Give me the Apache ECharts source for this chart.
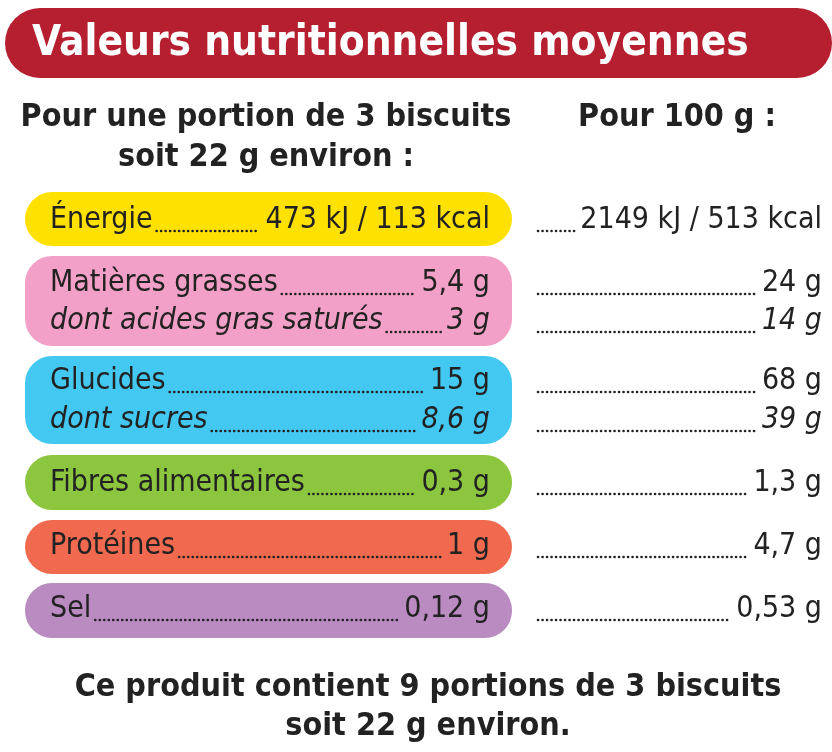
<!DOCTYPE html>
<html>
<head>
<meta charset="utf-8">
<script src="https://cdn.jsdelivr.net/npm/echarts@6/dist/echarts.min.js"></script>
<style>
  html, body { margin: 0; padding: 0; background: #fff; }
  #main { width: 832px; height: 752px; }
</style>
</head>
<body>
<div id="main"></div>
<script>
// valeurs nutritionnelles
const title = 'Valeurs nutritionnelles moyennes';
const portionHeader = ['Pour une portion de 3 biscuits', 'soit 22 g environ :'];
const per100Header = 'Pour 100 g :';
const rowLabels = ['Énergie', 'Matières grasses', 'dont acides gras saturés', 'Glucides', 'dont sucres', 'Fibres alimentaires', 'Protéines', 'Sel'];
const perPortion = ['473 kJ / 113 kcal', '5,4 g', '3 g', '15 g', '8,6 g', '0,3 g', '1 g', '0,12 g'];
const per100g = ['2149 kJ / 513 kcal', '24 g', '14 g', '68 g', '39 g', '1,3 g', '4,7 g', '0,53 g'];
const italicRows = [false, false, true, false, true, false, false, false];
const footer = ['Ce produit contient 9 portions de 3 biscuits', 'soit 22 g environ.'];

// layout / style
const rowY = [220, 283, 321, 381, 420, 483, 546, 609];
const pills = [
  { y: 192, h: 54, color: '#ffe100' },
  { y: 256, h: 90, color: '#f3a0c9' },
  { y: 356, h: 88, color: '#43c8f2' },
  { y: 455, h: 55, color: '#8cc63e' },
  { y: 520, h: 54, color: '#f16a50' },
  { y: 583, h: 55, color: '#b98bc1' }
];
const FONT = '"Liberation Sans Narrow", "DejaVu Sans Condensed", sans-serif';
const SIZE = 30;

const ctx = document.createElement('canvas').getContext('2d');
function width(t, italic, bold) {
  ctx.font = (italic ? 'italic ' : '') + (bold ? 'bold ' : '') + SIZE + 'px ' + FONT;
  return ctx.measureText(t).width;
}

const chart = echarts.init(document.getElementById('main'));
const g = [];

g.push({ type: 'rect', shape: { x: 5, y: 8, width: 827, height: 70, r: 35 }, style: { fill: '#b51f30' } });
g.push({ type: 'text', x: 32, y: 44, style: { text: title, fill: '#fff', font: 'bold 42px ' + FONT, verticalAlign: 'middle' } });

portionHeader.forEach((t, i) => g.push({ type: 'text', x: 266, y: 118 + i * 40,
  style: { text: t, fill: '#222', font: 'bold 32px ' + FONT, align: 'center', verticalAlign: 'middle' } }));
g.push({ type: 'text', x: 677, y: 118, style: { text: per100Header, fill: '#222', font: 'bold 32px ' + FONT, align: 'center', verticalAlign: 'middle' } });

pills.forEach(p => g.push({ type: 'rect', shape: { x: 25, y: p.y, width: 487, height: p.h, r: 27 }, style: { fill: p.color } }));

function dots(x1, x2, y) {
  if (x2 - x1 < 4) return;
  g.push({ type: 'line', shape: { x1: x1, y1: y, x2: x2, y2: y },
    style: { stroke: '#222', lineWidth: 2.6, lineDash: [0.1, 4.4], lineCap: 'round' } });
}

rowLabels.forEach((lab, i) => {
  const it = italicRows[i];
  const f = (it ? 'italic ' : '') + SIZE + 'px ' + FONT;
  const y = rowY[i];
  g.push({ type: 'text', x: 50, y: y, style: { text: lab, fill: '#222', font: f, verticalAlign: 'middle' } });
  g.push({ type: 'text', x: 490, y: y, style: { text: perPortion[i], fill: '#222', font: f, align: 'right', verticalAlign: 'middle' } });
  const lw = width(lab, it), vw = width(perPortion[i], it);
  dots(50 + lw + 4, 490 - vw - 6, y + 11);
  g.push({ type: 'text', x: 822, y: y, style: { text: per100g[i], fill: '#222', font: f, align: 'right', verticalAlign: 'middle' } });
  dots(538, 822 - width(per100g[i], it) - 6, y + 11);
});

footer.forEach((t, i) => g.push({ type: 'text', x: 428, y: 688 + i * 39,
  style: { text: t, fill: '#222', font: 'bold 32px ' + FONT, align: 'center', verticalAlign: 'middle' } }));

chart.setOption({ animation: false, graphic: { elements: g } });
</script>
</body>
</html>
